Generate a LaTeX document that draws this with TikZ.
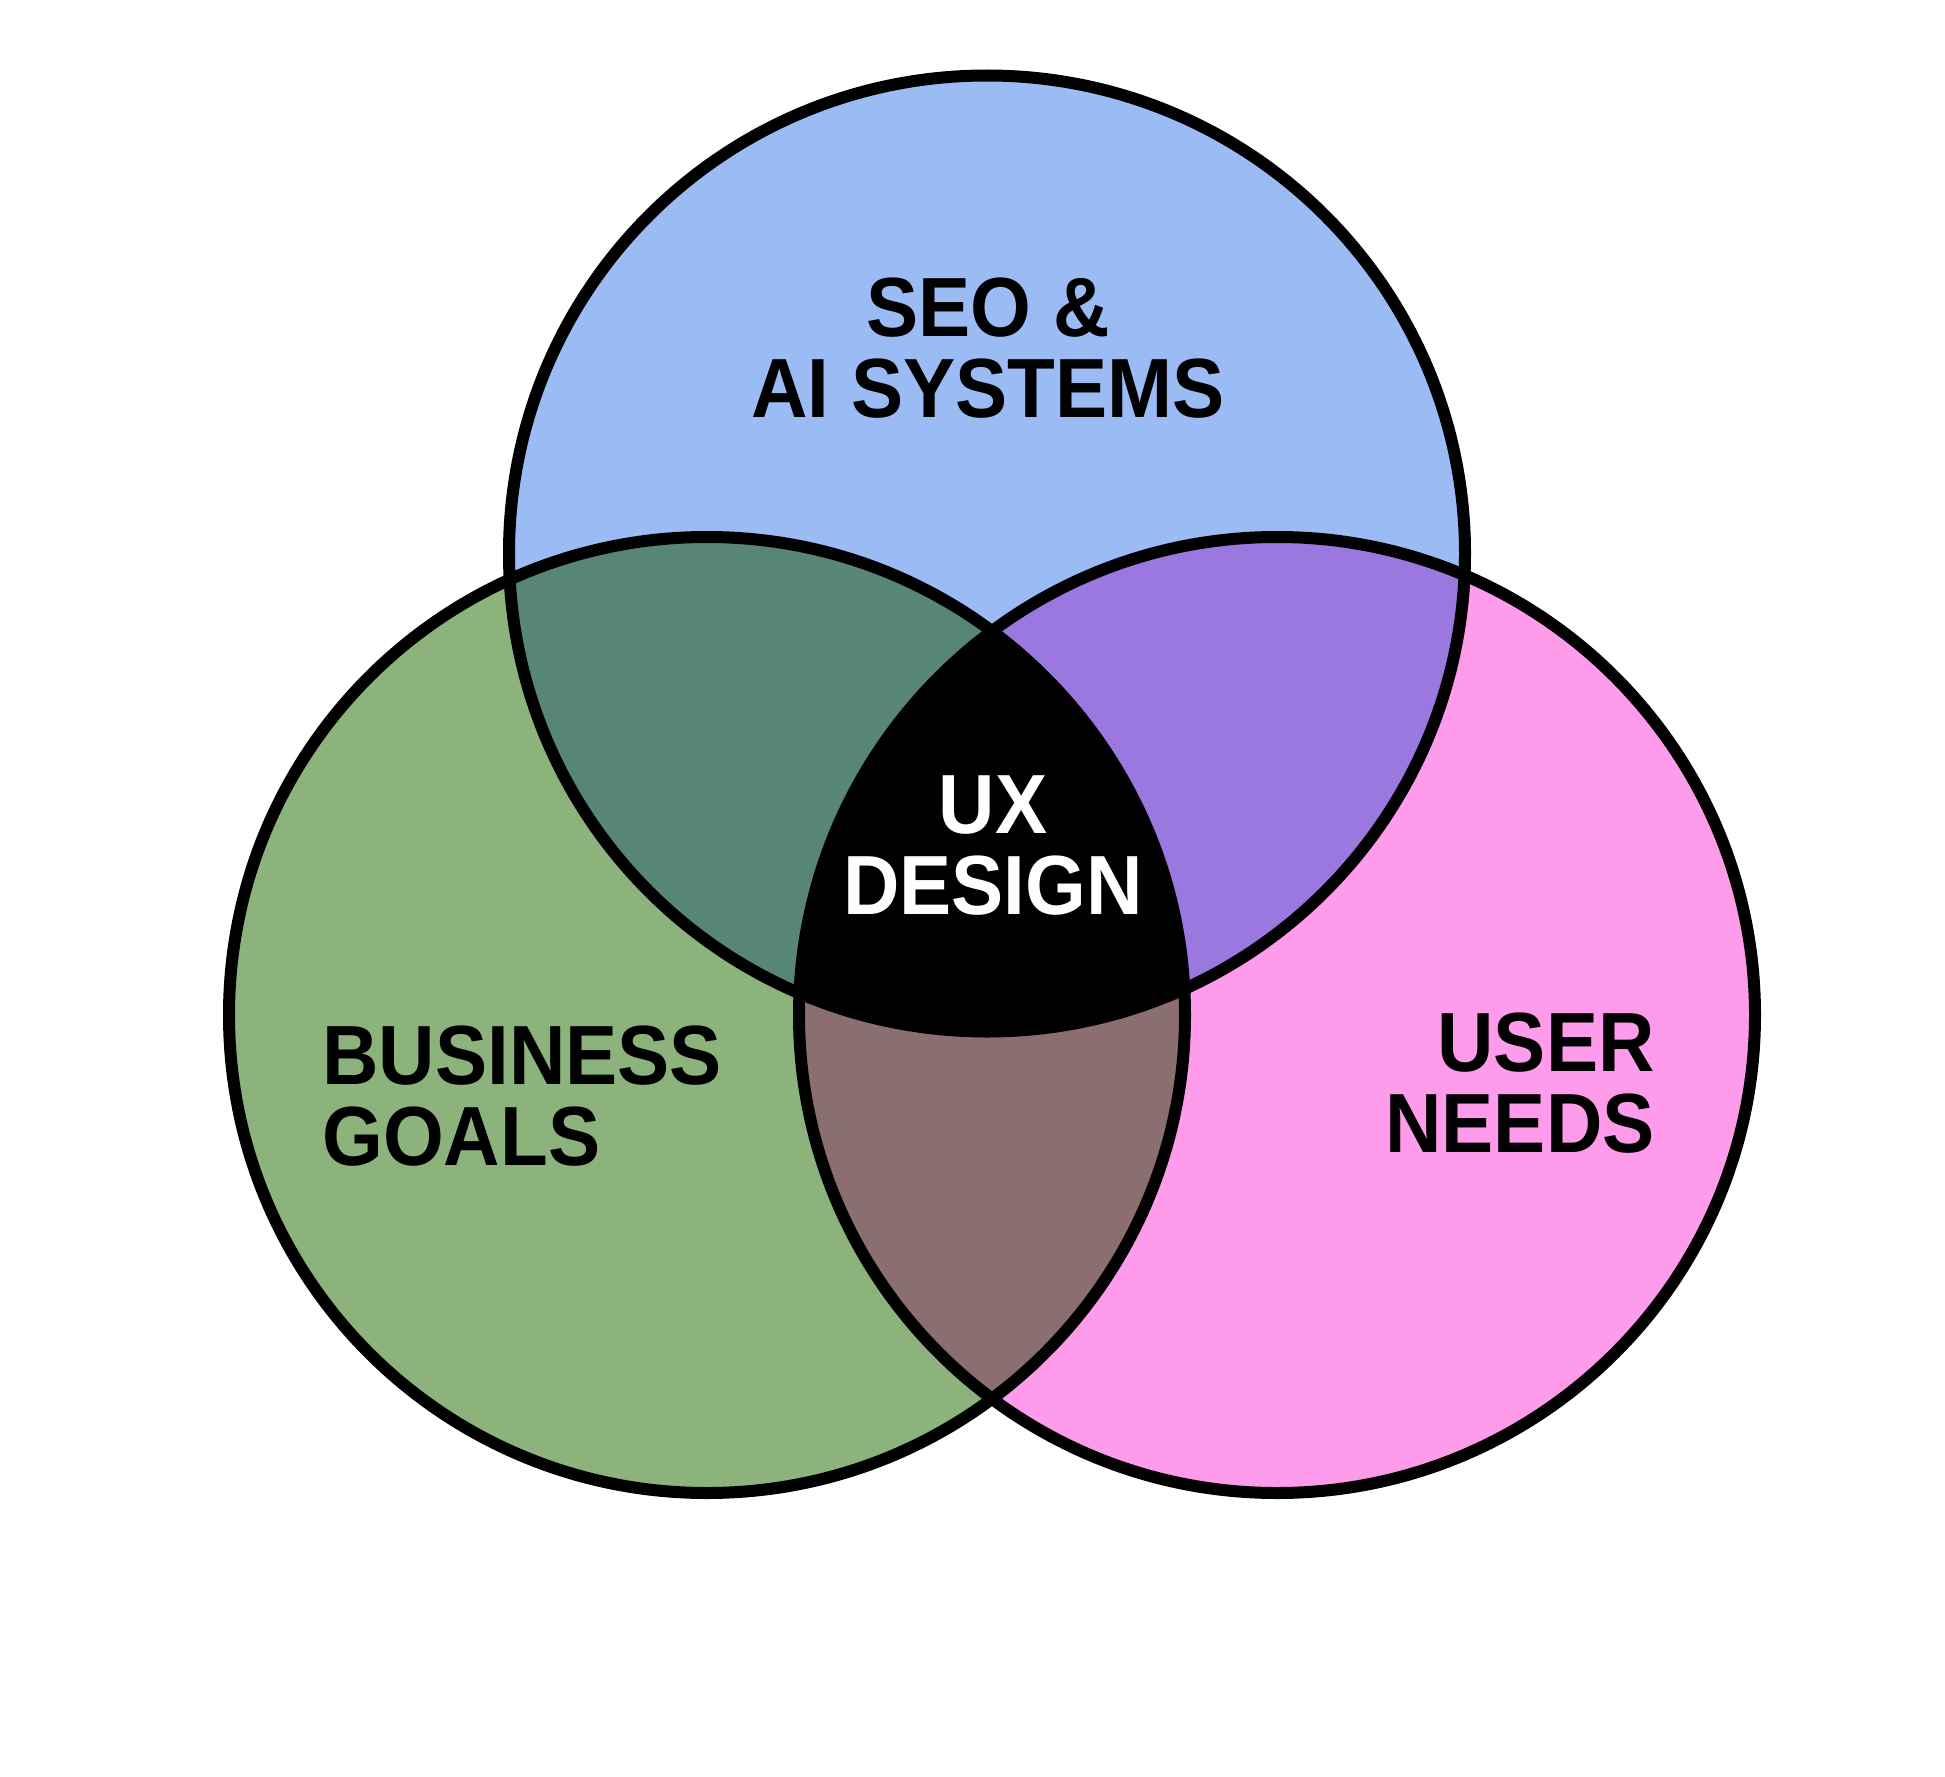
\documentclass[tikz,border=0pt]{standalone}
\usepackage{fontspec}
\setmainfont{Liberation Sans}[FakeStretch=0.93]
\definecolor{cblue}{HTML}{9BBBF5}
\definecolor{cgreen}{HTML}{8BB37B}
\definecolor{cpink}{HTML}{FF9BEB}
\definecolor{cgb}{HTML}{578576}
\definecolor{cbp}{HTML}{9B77E0}
\definecolor{cgp}{HTML}{8B6F70}
\begin{document}
\begin{tikzpicture}[x=0.5pt,y=-0.5pt,
  ring/.style={draw=black,line width=6pt},
  lbl/.style={inner sep=0pt,font=\fontsize{42}{40.5}\selectfont\bfseries}]
\useasboundingbox (0,0) rectangle (1945,1777);
\fill[white] (0,0) rectangle (1945,1777);
\coordinate (T) at (987,553.5);
\coordinate (L) at (707,1015);
\coordinate (R) at (1277,1015);
\def\rr{239pt}
% base fills
\fill[cblue] (T) circle[radius=\rr];
\fill[cgreen] (L) circle[radius=\rr];
\fill[cpink] (R) circle[radius=\rr];
% pairwise overlaps
\begin{scope}
  \clip (T) circle[radius=\rr];
  \fill[cgb] (L) circle[radius=\rr];
  \fill[cbp] (R) circle[radius=\rr];
\end{scope}
\begin{scope}
  \clip (L) circle[radius=\rr];
  \fill[cgp] (R) circle[radius=\rr];
  \clip (R) circle[radius=\rr];
  \fill[black] (T) circle[radius=\rr];
\end{scope}
% outlines
\draw[ring] (T) circle[radius=\rr];
\draw[ring] (L) circle[radius=\rr];
\draw[ring] (R) circle[radius=\rr];
% labels
\node[lbl,align=center] (seo) at (988,348) {SEO \&\\AI SYSTEMS};
\node[lbl,align=left,anchor=west] (bus) at (322,1096) {BUSINESS\\GOALS};
\node[lbl,align=right,anchor=east] (usr) at (1655,1083) {USER\\NEEDS};
\node[lbl,align=center,text=white] (ux) at (993,846) {UX\\DESIGN};
\end{tikzpicture}
\end{document}
